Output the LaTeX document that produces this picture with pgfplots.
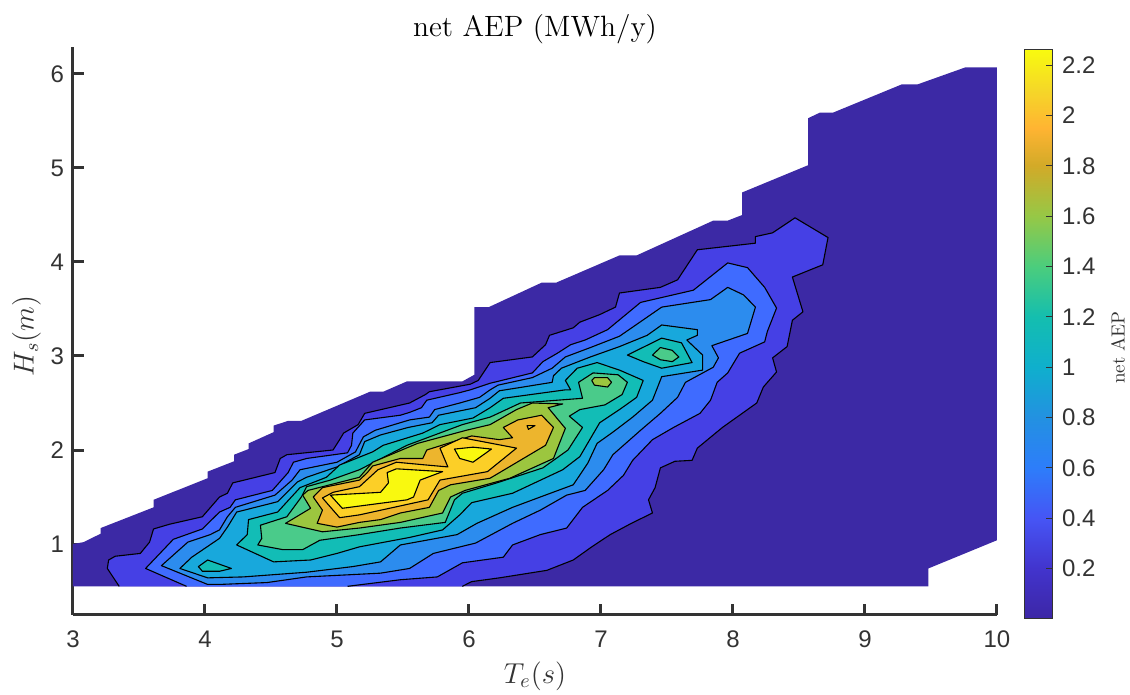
\documentclass[border=0pt]{standalone}
\usepackage{fontspec}
\usepackage{pgfplots}
\pgfplotsset{compat=1.18}
\newfontfamily\arialf{Liberation Sans}
\definecolor{axc}{HTML}{333333}
\definecolor{L0}{HTML}{3C29A5}
\definecolor{L1}{HTML}{4540E5}
\definecolor{L2}{HTML}{3F6BFF}
\definecolor{L3}{HTML}{2C8CEE}
\definecolor{L4}{HTML}{18A8DC}
\definecolor{L5}{HTML}{12BDB6}
\definecolor{L6}{HTML}{4ACB8A}
\definecolor{L7}{HTML}{9CC63F}
\definecolor{L8}{HTML}{EDB52D}
\definecolor{L9}{HTML}{FCCF27}
\definecolor{L10}{HTML}{F9F90F}
\pgfplotsset{
  cl/.style={fill=#1,draw=black,line width=0.55pt,line join=round,mark=none,forget plot},
  colormap={parulaish}{
    rgb255(0cm)=(60,38,165) rgb255(2cm)=(66,52,205) rgb255(4cm)=(70,85,245) rgb255(6cm)=(45,125,250)
    rgb255(8cm)=(35,145,225) rgb255(10cm)=(15,175,205) rgb255(12cm)=(20,190,175) rgb255(14cm)=(75,205,125)
    rgb255(16cm)=(150,200,70) rgb255(18cm)=(210,170,40) rgb255(19.5cm)=(255,180,50) rgb255(21cm)=(245,215,40)
    rgb255(22.6cm)=(248,250,15)}
}
\begin{document}
\begin{tikzpicture}[x=1pt,y=1pt]
\useasboundingbox (-36.5,-40) rectangle (528.5,307.5);
\begin{axis}[
  at={(0,0)},anchor=south west,
  scale only axis,width=462pt,height=284pt,
  xmin=3,xmax=10,ymin=0.245,ymax=6.287,
  axis x line*=bottom,axis y line*=left,
  axis line style={line width=1.5pt,color=axc,-},
  tick style={line width=1.5pt,color=axc},
  tick align=inside,major tick length=5.5pt,
  xtick={3,4,5,6,7,8,9,10},ytick={1,2,3,4,5,6},
  /pgf/number format/assume math mode=true,
  tick label style={font=\arialf\fontsize{12}{14}\selectfont,color=axc},
  xticklabel style={yshift=-4.5pt},
  yticklabel style={xshift=-1pt},
  xlabel={$T_e(s)$},ylabel={$H_s(m)$},
  label style={font=\fontsize{14}{16}\selectfont,color=black!80},
  xlabel style={at={(axis description cs:0.5,0)},anchor=north,yshift=-20pt},
  ylabel style={at={(axis description cs:0,0.491)},anchor=south,yshift=12.5pt},
  title={net AEP (MWh/y)},
  title style={font=\fontsize{14.7}{16}\selectfont,at={(axis description cs:0.5,1)},anchor=south,yshift=-8pt},
  colormap name=parulaish,
  point meta min=0,point meta max=2.26,
  colorbar,
  colorbar style={
    at={(1.0303,-0.007)},anchor=south west,width=14pt,height=284.5pt,
    ytick={0.2,0.4,0.6,0.8,1,1.2,1.4,1.6,1.8,2,2.2},
    yticklabels={0.2,0.4,0.6,0.8,1,1.2,1.4,1.6,1.8,2,2.2},
    tick align=inside,major tick length=3.5pt,ytick pos=right,
    tick style={line width=0.5pt,color=axc},
    axis line style={line width=0.5pt,color=axc},
    yticklabel style={font=\arialf\fontsize{12}{14}\selectfont,color=axc,xshift=1pt},
    ylabel={net AEP},
    ylabel style={font=\fontsize{9.5}{11}\selectfont,color=black!80,at={(axis description cs:1,0.477)},rotate=0,anchor=north,yshift=-25.5pt},
  },
]
% background region
\addplot[fill=L0,draw=none,mark=none,forget plot] coordinates {
(3.00,0.55)(9.48,0.55)(9.48,0.74)(10,1.04)(10,6.07)(9.76,6.07)(9.40,5.89)(9.28,5.89)(8.76,5.59)(8.66,5.59)(8.57,5.53)(8.57,5.03)(8.07,4.74)(8.07,4.50)(7.96,4.44)(7.85,4.44)(7.27,4.07)(7.14,4.07)(6.66,3.78)(6.55,3.78)(6.15,3.52)(6.04,3.52)(6.04,2.80)(5.95,2.73)(5.53,2.73)(5.35,2.62)(5.25,2.62)(4.73,2.31)(4.63,2.31)(4.52,2.26)(4.52,2.19)(4.33,2.07)(4.33,2.01)(4.22,1.95)(4.22,1.88)(4.02,1.77)(4.02,1.70)(3.61,1.47)(3.61,1.39)(3.21,1.17)(3.21,1.11)(3.08,1.02)(3.00,1.00)
} -- cycle;
% level 1
\addplot[cl=L1] coordinates {
(3.35,0.55)(3.26,0.74)(3.27,0.83)(3.32,0.87)(3.51,0.90)(3.58,1.02)(3.61,1.16)(3.73,1.21)(3.98,1.29)(4.11,1.50)(4.17,1.54)(4.21,1.65)(4.53,1.76)(4.57,1.91)(4.62,1.95)(4.97,2.00)(5.02,2.11)(5.05,2.18)(5.16,2.27)(5.21,2.39)(5.55,2.50)(5.67,2.59)(5.70,2.62)(6.01,2.70)(6.07,2.74)(6.16,2.93)(6.48,2.99)(6.58,3.12)(6.61,3.22)(6.79,3.30)(6.84,3.36)(6.99,3.44)(7.11,3.52)(7.14,3.67)(7.45,3.73)(7.58,3.81)(7.73,4.13)(8.17,4.20)(8.17,4.27)(8.30,4.31)(8.47,4.47)(8.72,4.26)(8.68,3.97)(8.45,3.84)(8.53,3.47)(8.45,3.38)(8.41,3.10)(8.30,2.98)(8.33,2.83)(8.23,2.67)(8.18,2.50)(8.00,2.32)(7.92,2.24)(7.73,2.02)(7.69,1.89)(7.56,1.88)(7.45,1.81)(7.41,1.60)(7.36,1.47)(7.39,1.33)(7.23,1.22)(7.07,1.10)(6.93,0.97)(6.79,0.83)(6.59,0.72)(6.23,0.64)(6.02,0.60)(5.95,0.55)
};
% level 2
\addplot[cl=L2] coordinates {
(3.86,0.55)(3.55,0.74)(3.76,1.05)(3.98,1.16)(4.11,1.34)(4.19,1.39)(4.23,1.47)(4.51,1.57)(4.63,1.76)(4.67,1.87)(4.77,1.91)(5.08,1.97)(5.11,2.05)(5.12,2.18)(5.21,2.32)(5.48,2.37)(5.55,2.40)(5.64,2.45)(5.68,2.53)(5.93,2.61)(6.01,2.64)(6.16,2.71)(6.48,2.82)(6.56,2.94)(6.67,3.03)(6.77,3.12)(6.88,3.17)(7.05,3.28)(7.30,3.57)(7.70,3.70)(7.96,3.99)(8.11,3.94)(8.24,3.73)(8.33,3.51)(8.26,3.26)(8.24,3.15)(8.05,3.03)(7.96,2.82)(7.88,2.72)(7.83,2.53)(7.75,2.39)(7.55,2.24)(7.39,2.11)(7.24,1.89)(7.17,1.73)(7.05,1.57)(6.86,1.39)(6.74,1.17)(6.54,1.10)(6.33,0.99)(6.26,0.86)(5.95,0.80)(5.76,0.65)(5.48,0.62)(5.08,0.55)
};
% level 3
\addplot[cl=L3] coordinates {
(4.02,0.57)(3.67,0.77)(3.87,1.02)(4.04,1.10)(4.11,1.15)(4.17,1.29)(4.23,1.39)(4.53,1.52)(4.66,1.68)(4.72,1.79)(5.00,1.87)(5.14,1.98)(5.20,2.14)(5.29,2.21)(5.55,2.32)(5.70,2.35)(5.74,2.43)(5.93,2.50)(6.08,2.56)(6.16,2.64)(6.22,2.69)(6.48,2.77)(6.63,2.87)(6.73,2.99)(6.92,3.09)(7.14,3.21)(7.46,3.52)(7.83,3.60)(7.96,3.73)(8.08,3.65)(8.17,3.52)(8.11,3.24)(7.84,3.11)(7.89,2.98)(7.85,2.88)(7.64,2.72)(7.58,2.56)(7.45,2.39)(7.30,2.21)(7.09,1.95)(7.02,1.79)(6.88,1.57)(6.74,1.52)(6.54,1.36)(6.33,1.22)(6.05,1.01)(5.73,0.90)(5.55,0.74)(5.33,0.69)(4.77,0.65)(4.47,0.59)(4.11,0.57)
} -- cycle;
% level 4
\addplot[cl=L4] coordinates {
(4.02,0.64)(3.81,0.74)(3.90,0.86)(4.11,1.06)(4.17,1.18)(4.24,1.34)(4.55,1.45)(4.70,1.66)(4.77,1.71)(5.00,1.82)(5.17,1.95)(5.21,2.09)(5.33,2.16)(5.54,2.24)(5.72,2.29)(5.77,2.37)(6.05,2.45)(6.16,2.55)(6.23,2.63)(6.41,2.67)(6.63,2.72)(6.64,2.79)(6.70,2.87)(6.92,2.99)(7.14,3.10)(7.35,3.22)(7.46,3.33)(7.73,3.28)(7.73,3.22)(7.65,3.17)(7.77,3.01)(7.77,2.85)(7.46,2.78)(7.39,2.53)(7.24,2.35)(7.09,2.19)(6.97,2.07)(6.90,1.86)(6.79,1.63)(6.54,1.50)(6.33,1.39)(6.06,1.22)(5.91,1.10)(5.48,0.99)(5.33,0.81)(5.12,0.76)(4.77,0.70)(4.29,0.65)
} -- cycle;
% level 5
\addplot[cl=L5] coordinates {
(4.24,0.99)(4.32,1.10)(4.33,1.26)(4.55,1.34)(4.72,1.60)(4.92,1.71)(5.02,1.84)(5.27,1.98)(5.35,2.05)(5.65,2.18)(5.78,2.27)(6.03,2.34)(6.16,2.45)(6.26,2.55)(6.73,2.64)(6.77,2.64)(6.73,2.74)(6.82,2.87)(6.97,2.93)(7.14,2.85)(7.32,2.74)(7.27,2.56)(7.14,2.43)(6.99,2.29)(6.84,1.93)(6.71,1.79)(6.33,1.54)(6.02,1.44)(5.93,1.31)(5.80,1.15)(5.55,1.07)(5.17,0.97)(5.00,0.90)(4.80,0.83)(4.52,0.81)
} -- cycle;
\addplot[cl=L5] coordinates {(7.20,3.01)(7.46,3.19)(7.61,3.14)(7.69,2.93)(7.46,2.87)(7.32,2.94)} -- cycle;
\addplot[cl=L5] coordinates {(3.95,0.76)(4.02,0.83)(4.20,0.74)(4.11,0.71)(3.98,0.71)} -- cycle;
% level 6
\addplot[cl=L6] coordinates {
(4.40,0.99)(4.43,1.06)(4.42,1.20)(4.62,1.29)(4.73,1.50)(4.77,1.61)(4.95,1.68)(5.17,1.79)(5.53,2.05)(5.95,2.27)(6.16,2.35)(6.39,2.50)(6.86,2.55)(6.83,2.72)(6.94,2.82)(7.13,2.80)(7.20,2.72)(7.16,2.59)(7.03,2.48)(6.84,2.43)(6.76,2.36)(6.86,2.24)(6.75,2.00)(6.56,1.81)(6.21,1.65)(5.95,1.54)(5.89,1.47)(5.82,1.23)(5.48,1.17)(5.17,1.10)(4.87,1.04)(4.74,0.94)(4.59,0.94)
} -- cycle;
\addplot[cl=L6] coordinates {(7.39,3.01)(7.45,3.09)(7.54,3.06)(7.59,2.99)(7.54,2.94)(7.45,2.96)} -- cycle;
% level 7
\addplot[cl=L7] coordinates {
(4.61,1.22)(4.80,1.38)(4.74,1.52)(4.78,1.57)(5.17,1.71)(5.27,1.87)(5.61,2.07)(5.98,2.21)(6.16,2.27)(6.36,2.43)(6.48,2.50)(6.71,2.49)(6.60,2.45)(6.73,2.23)(6.64,1.91)(6.31,1.70)(5.97,1.57)(5.86,1.50)(5.80,1.33)(5.48,1.23)(5.17,1.17)(4.89,1.13)
} -- cycle;
\addplot[cl=L7] coordinates {(6.93,2.74)(6.95,2.77)(7.05,2.77)(7.08,2.72)(7.05,2.67)(6.95,2.69)} -- cycle;
% level 8
\addplot[cl=L8] coordinates {
(4.85,1.22)(5.00,1.18)(5.17,1.23)(5.33,1.26)(5.48,1.33)(5.70,1.39)(5.77,1.57)(5.86,1.63)(6.16,1.70)(6.46,1.95)(6.58,2.05)(6.64,2.24)(6.55,2.37)(6.37,2.32)(6.26,2.24)(6.33,2.13)(6.23,2.11)(6.02,2.15)(5.68,2.00)(5.65,1.91)(5.48,1.91)(5.27,1.83)(5.23,1.76)(5.17,1.68)(4.89,1.60)(4.82,1.50)(4.89,1.36)
} -- cycle;
% level 9
\addplot[cl=L9] coordinates {
(4.89,1.49)(4.97,1.55)(5.17,1.61)(5.31,1.79)(5.45,1.87)(5.68,1.84)(5.84,1.82)(5.78,2.02)(5.95,2.13)(6.36,2.02)(6.14,1.77)(5.78,1.68)(5.69,1.47)(5.17,1.31)(5.02,1.28)
} -- cycle;
\addplot[cl=L9] coordinates {(6.44,2.26)(6.50,2.26)(6.45,2.22)} -- cycle;
% level 10
\addplot[cl=L10] coordinates {
(4.95,1.52)(5.33,1.55)(5.39,1.65)(5.38,1.76)(5.45,1.80)(5.80,1.77)(5.63,1.68)(5.58,1.50)(5.53,1.47)(5.04,1.38)
} -- cycle;
\addplot[cl=L10] coordinates {(5.89,2.01)(6.03,2.03)(6.17,2.01)(6.03,1.87)(5.93,1.91)} -- cycle;
\end{axis}
\end{tikzpicture}
\end{document}
